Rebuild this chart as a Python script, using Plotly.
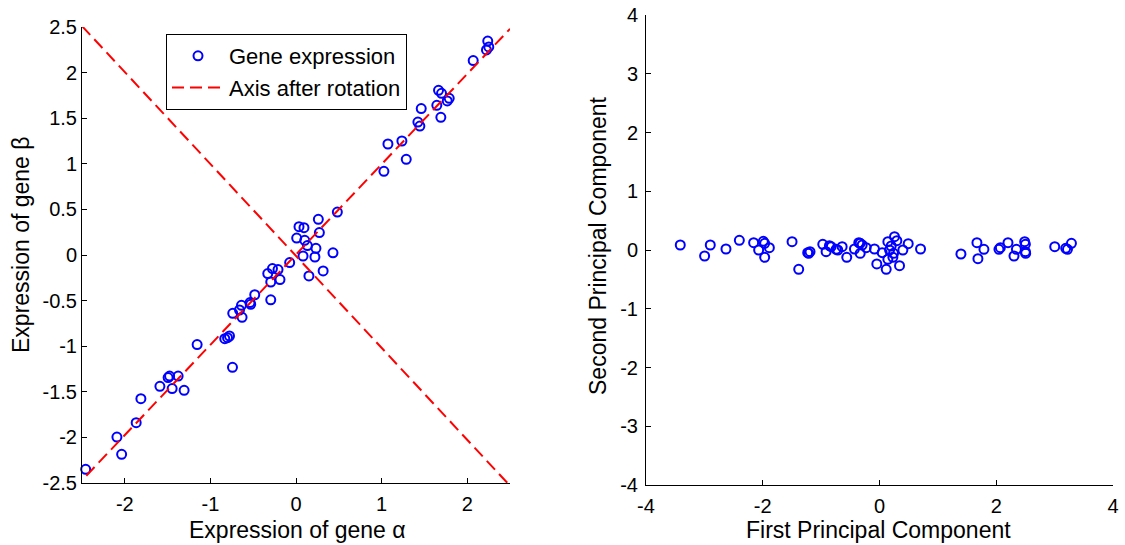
import plotly.graph_objects as go

# ---- Left panel: gene expression data ----
gene_alpha = [2.240, 2.252, 2.225, 2.070, 1.665, 1.700, 1.790, 1.767, 1.463, 1.645,
              1.692, 1.424, 1.447, 1.074, 1.237, 1.288, 1.027, 0.483, 0.261, 0.035,
              0.093, 0.273, 0.008, 0.102, 0.133, 0.233, 0.432, 0.082, 0.221, -0.074,
              0.317, 0.151, -0.275, -0.210, -0.330, -0.187, -0.295, -0.482, -0.295, -0.537,
              -0.529, -0.637, -0.660, -0.739, -0.630, -0.777, -0.832, -0.800, -1.155, -0.742,
              -1.477, -1.494, -1.377, -1.590, -1.447, -1.307, -1.812, -1.867, -2.092, -2.037,
              -2.457]
gene_beta = [2.346, 2.281, 2.248, 2.132, 1.806, 1.773, 1.718, 1.689, 1.605, 1.641,
             1.510, 1.458, 1.414, 1.217, 1.250, 1.049, 0.918, 0.471, 0.391, 0.311,
             0.300, 0.246, 0.186, 0.161, 0.103, 0.073, 0.024, -0.011, -0.022, -0.083,
             -0.175, -0.230, -0.149, -0.160, -0.204, -0.270, -0.296, -0.436, -0.491, -0.522,
             -0.541, -0.552, -0.603, -0.639, -0.683, -0.888, -0.917, -0.906, -0.982, -1.231,
             -1.327, -1.344, -1.327, -1.440, -1.465, -1.484, -1.575, -1.838, -1.996, -2.185,
             -2.350]

# rotated axes (dashed lines), endpoints
axis1_x = [-2.45, 2.50]
axis1_y = [-2.42, 2.48]
axis2_x = [-2.50, 2.50]
axis2_y = [2.51, -2.53]

# ---- Right panel: principal components ----
pc1 = [-3.413, -2.996, -2.899, -2.630, -2.401, -2.156, -2.070, -1.990, -1.967, -1.887,
       -1.967, -1.498, -1.384, -1.230, -1.190, -1.213, -0.972, -0.915, -0.858, -0.829,
       -0.743, -0.715, -0.640, -0.561, -0.429, -0.355, -0.331, -0.297, -0.331, -0.228,
       -0.086, -0.046, 0.046, 0.115, 0.143, 0.172, 0.200, 0.257, 0.229, 0.143,
       0.297, 0.240, 0.343, 0.400, 0.492, 0.703, 1.395, 1.669, 1.686, 1.789,
       2.046, 2.070, 2.201, 2.304, 2.345, 2.487, 2.499, 2.499, 2.504, 3.002,
       3.190, 3.220, 3.288]
pc2 = [0.085, -0.102, 0.085, 0.017, 0.165, 0.125, 0.000, 0.148, 0.113, 0.040,
       -0.125, 0.142, -0.329, -0.045, -0.028, -0.057, 0.097, -0.028, 0.074, 0.057,
       0.011, 0.000, 0.057, -0.125, 0.017, 0.125, 0.113, 0.085, -0.057, 0.040,
       0.017, -0.238, -0.045, -0.329, 0.142, 0.000, 0.068, 0.227, -0.125, -0.159,
       0.159, -0.057, -0.267, 0.000, 0.108, 0.017, -0.068, 0.125, -0.147, 0.011,
       0.011, 0.040, 0.125, -0.102, 0.011, 0.142, 0.097, -0.028, -0.057, 0.057,
       0.028, 0.011, 0.113]

left_xticks = [-2, -1, 0, 1, 2]
left_xticktext = ["-2", "-1", "0", "1", "2"]
left_yticks = [2.5, 2, 1.5, 1, 0.5, 0, -0.5, -1, -1.5, -2, -2.5]
left_yticktext = ["2.5", "2", "1.5", "1", "0.5", "0", "-0.5", "-1", "-1.5", "-2", "-2.5"]
right_xticks = [-4, -2, 0, 2, 4]
right_xticktext = ["-4", "-2", "0", "2", "4"]
right_yticks = [4, 3, 2, 1, 0, -1, -2, -3, -4]
right_yticktext = ["4", "3", "2", "1", "0", "-1", "-2", "-3", "-4"]

# the page body margin is removed (post_script below), so the figure fills the window
W, H = 1125, 545


def px(x):
    return x / W


def py(y):
    return 1 - y / H


FONT = "Arial, Liberation Sans, sans-serif"
BLUE = "#0000ff"
RED = "#ff0000"
DASH = "12px,6px"

fig = go.Figure()
fig.add_trace(go.Scatter(x=gene_alpha, y=gene_beta, mode="markers", name="Gene expression",
                         marker=dict(symbol="circle-open", size=9, color=BLUE, line=dict(width=2, color=BLUE)),
                         cliponaxis=False, xaxis="x", yaxis="y"))
fig.add_trace(go.Scatter(x=axis1_x, y=axis1_y, mode="lines", name="Axis after rotation",
                         line=dict(color=RED, width=2, dash=DASH), xaxis="x", yaxis="y"))
fig.add_trace(go.Scatter(x=axis2_x, y=axis2_y, mode="lines", name="Axis after rotation", showlegend=False,
                         line=dict(color=RED, width=2, dash=DASH), xaxis="x", yaxis="y"))
fig.add_trace(go.Scatter(x=pc1, y=pc2, mode="markers", showlegend=False,
                         marker=dict(symbol="circle-open", size=9, color=BLUE, line=dict(width=2, color=BLUE)),
                         cliponaxis=False, xaxis="x2", yaxis="y2"))

axis_common = dict(showline=True, linecolor="black", linewidth=1, ticks="inside", ticklen=5,
                   tickcolor="black", showgrid=False, zeroline=False, mirror=False,
                   ticklabeloverflow="allow",
                   tickfont=dict(family=FONT, size=20, color="black"), automargin=False)

fig.update_layout(
    width=W, height=H,
    margin=dict(l=0, r=0, t=0, b=0),
    paper_bgcolor="white", plot_bgcolor="white",
    font=dict(family=FONT, color="black"),
    xaxis=dict(domain=[px(82), px(510)], range=[-2.5, 2.5], tickvals=left_xticks, ticktext=left_xticktext,
               anchor="y", ticklabelstandoff=3, **axis_common),
    yaxis=dict(domain=[py(483), py(27)], range=[-2.5, 2.5], tickvals=left_yticks,
               ticktext=left_yticktext, anchor="x", **axis_common),
    xaxis2=dict(domain=[px(646), px(1113)], range=[-4, 4], tickvals=right_xticks, ticktext=right_xticktext,
                anchor="y2", ticklabelstandoff=3, **axis_common),
    yaxis2=dict(domain=[py(485), py(15)], range=[-4, 4], tickvals=right_yticks,
                ticktext=right_yticktext, anchor="x2", ticklabelstandoff=3, **axis_common),
    legend=dict(x=px(166), y=py(34), xanchor="left", yanchor="top", bgcolor="white",
                bordercolor="black", borderwidth=1, font=dict(family=FONT, size=22, color="black"),
                itemwidth=52, tracegroupgap=0),
    showlegend=True,
)

title_font = dict(family=FONT, size=23, color="black")
annos = [
    dict(text="Expression of gene α", x=px(297), y=py(530), xref="paper", yref="paper",
         xanchor="center", yanchor="middle", showarrow=False, font=title_font),
    dict(text="Expression of gene β", x=px(21), y=py(245), xref="paper", yref="paper",
         xanchor="center", yanchor="middle", textangle=-90, showarrow=False, font=title_font),
    dict(text="First Principal Component", x=px(878), y=py(530), xref="paper", yref="paper",
         xanchor="center", yanchor="middle", showarrow=False, font=title_font),
    dict(text="Second Principal Component", x=px(598), y=py(246), xref="paper", yref="paper",
         xanchor="center", yanchor="middle", textangle=-90, showarrow=False, font=title_font),
]
fig.update_layout(annotations=annos)

fig.write_html("out.html", config={"displayModeBar": False},
               post_script="document.body.style.margin='0';document.body.style.overflow='hidden';")
